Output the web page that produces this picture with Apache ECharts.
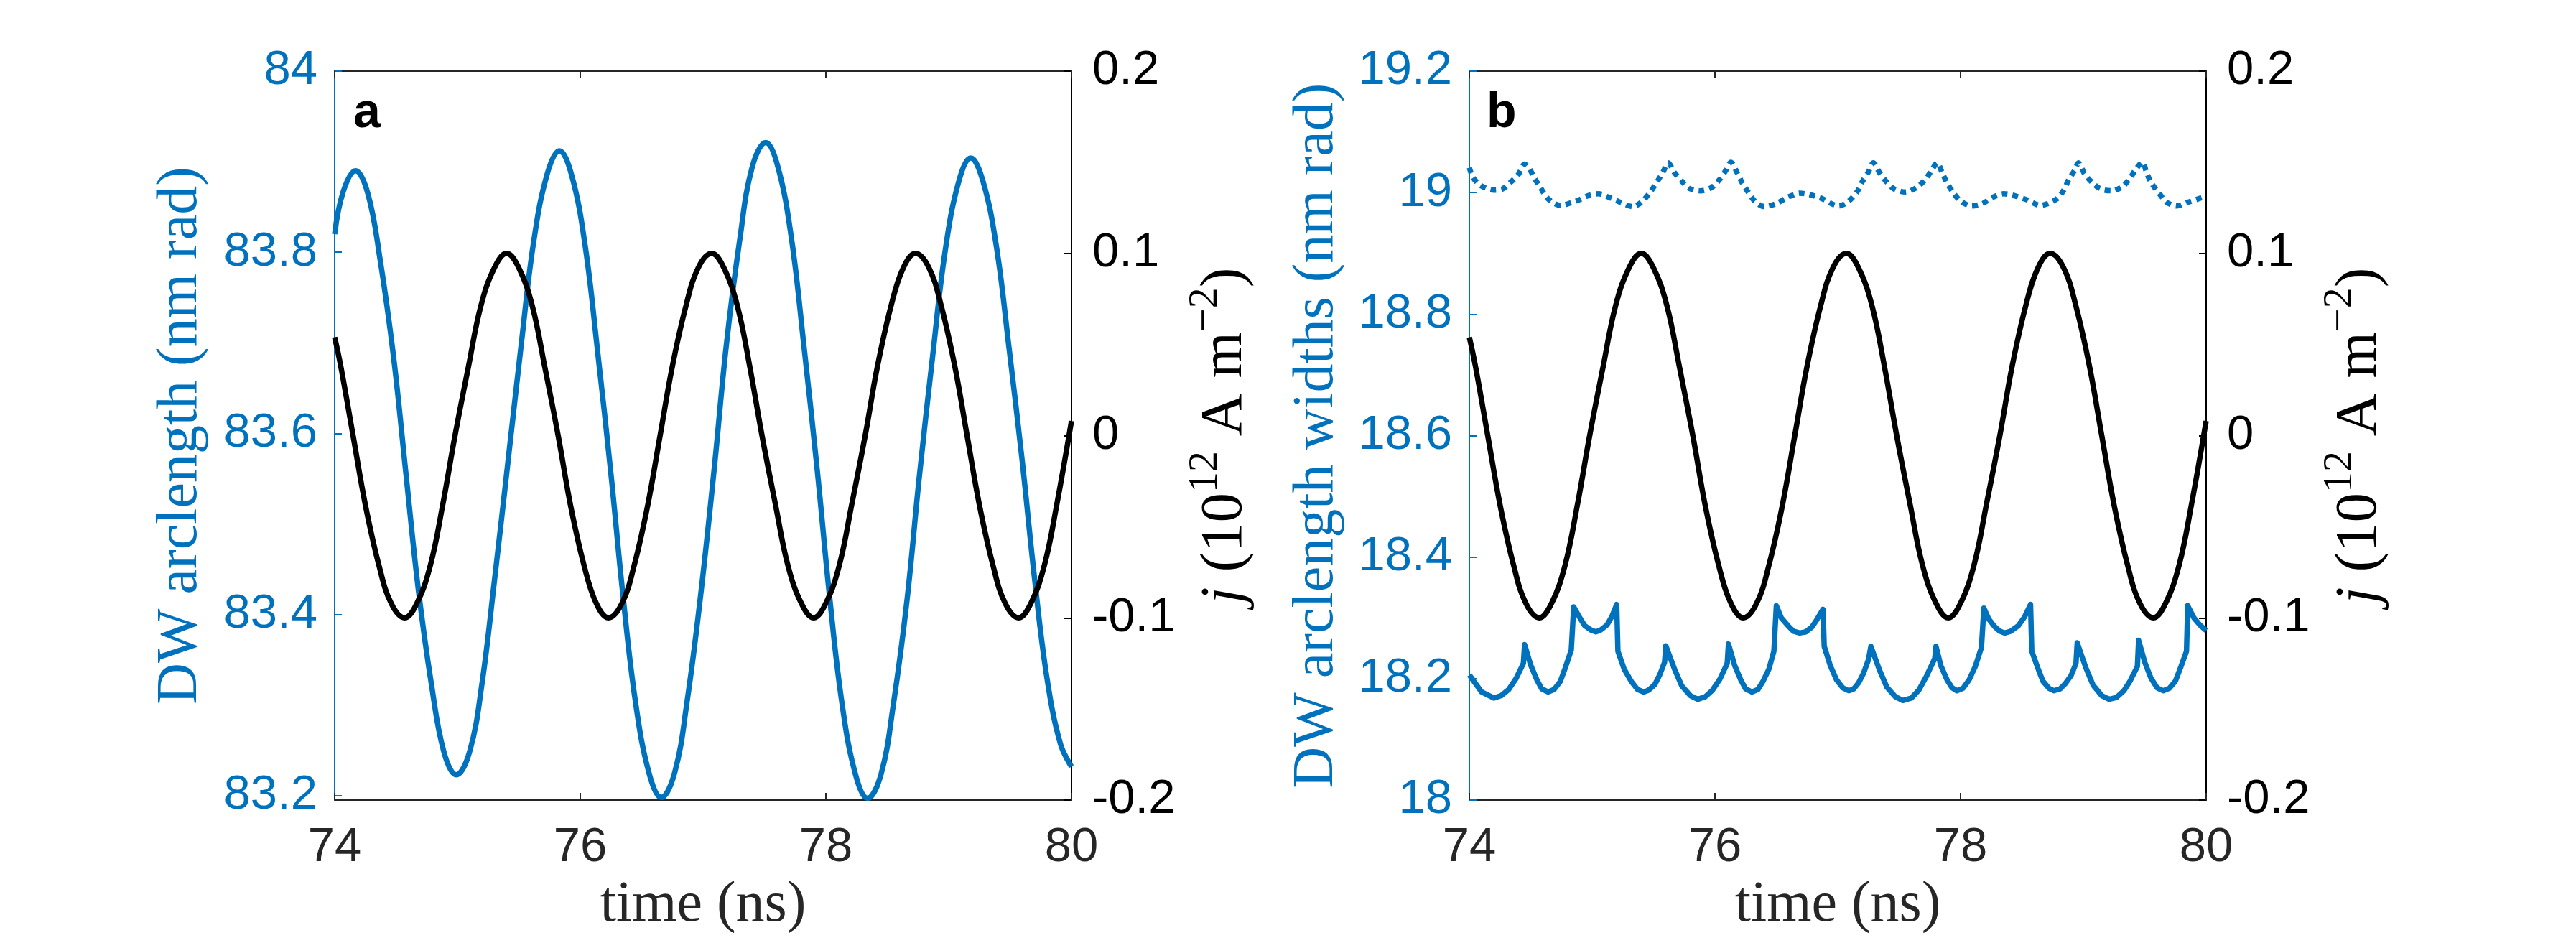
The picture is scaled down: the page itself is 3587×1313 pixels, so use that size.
<!DOCTYPE html>
<html lang="en">
<head>
<meta charset="UTF-8">
<title>DW arclength vs time</title>
<script src="https://cdn.jsdelivr.net/npm/echarts@6.0.0/dist/echarts.min.js"></script>
<style>html,body{margin:0;padding:0;background:#fff;}</style>
</head>
<body>
<div id="main" style="width:3587px;height:1313px;"></div>
<script type="text/javascript">
// current density j (right axes, same drive in both panels)
var jTime = [74.00, 74.05, 74.15, 74.25, 74.36, 74.46, 74.57, 74.67, 74.78, 74.88,
             74.98, 75.09, 75.19, 75.30, 75.40, 75.50, 75.61, 75.71, 75.82, 75.92,
             76.03, 76.13, 76.23, 76.34, 76.44, 76.55, 76.65, 76.75, 76.86, 76.96,
             77.07, 77.17, 77.28, 77.38, 77.48, 77.59, 77.69, 77.80, 77.90, 78.00,
             78.11, 78.21, 78.32, 78.42, 78.53, 78.63, 78.73, 78.84, 78.94, 79.05,
             79.15, 79.25, 79.36, 79.46, 79.57, 79.67, 79.78, 79.88, 80.00];
var jVal  = [0.054, 0.038, 0, -0.038, -0.071, -0.092, -0.1, -0.092, -0.071, -0.038,
             0, 0.038, 0.071, 0.092, 0.1, 0.092, 0.071, 0.038, 0, -0.038,
             -0.071, -0.092, -0.1, -0.092, -0.071, -0.038, 0, 0.038, 0.071, 0.092,
             0.1, 0.092, 0.071, 0.038, 0, -0.038, -0.071, -0.092, -0.1, -0.092,
             -0.071, -0.038, 0, 0.038, 0.071, 0.092, 0.1, 0.092, 0.071, 0.038,
             0, -0.038, -0.071, -0.092, -0.1, -0.092, -0.071, -0.038, 0.008];

// panel a: DW arclength
var arcTime = [74.00, 74.07, 74.17, 74.27, 74.37, 74.48, 74.58, 74.68, 74.79, 74.89,
               74.99, 75.10, 75.20, 75.30, 75.41, 75.52, 75.62, 75.73, 75.83, 75.93,
               76.04, 76.14, 76.25, 76.35, 76.45, 76.56, 76.66, 76.77, 76.87, 76.98,
               77.09, 77.19, 77.30, 77.40, 77.51, 77.61, 77.72, 77.82, 77.93, 78.03,
               78.13, 78.24, 78.34, 78.45, 78.55, 78.66, 78.76, 78.87, 78.97, 79.08,
               79.18, 79.28, 79.39, 79.49, 79.60, 79.70, 79.80, 79.91, 80.00];
var arcVal  = [83.820, 83.867, 83.890, 83.865, 83.792, 83.684, 83.556, 83.429, 83.321, 83.248,
               83.223, 83.249, 83.324, 83.436, 83.567, 83.699, 83.811, 83.886, 83.912, 83.885,
               83.807, 83.692, 83.555, 83.418, 83.303, 83.225, 83.198, 83.226, 83.304, 83.421,
               83.560, 83.698, 83.815, 83.894, 83.921, 83.894, 83.815, 83.698, 83.559, 83.420,
               83.303, 83.224, 83.197, 83.224, 83.301, 83.415, 83.551, 83.686, 83.800, 83.877,
               83.904, 83.878, 83.805, 83.696, 83.568, 83.439, 83.330, 83.257, 83.232];

// panel b: DW arclength widths, lower (solid) curve
var wLoTime = [74.00, 74.10, 74.20, 74.26, 74.32, 74.38, 74.44, 74.45, 74.50, 74.55,
               74.59, 74.64, 74.69, 74.74, 74.78, 74.83, 74.85, 74.90, 74.94, 74.99,
               75.03, 75.07, 75.12, 75.16, 75.20, 75.21, 75.26, 75.32, 75.37, 75.42,
               75.46, 75.51, 75.55, 75.59, 75.60, 75.67, 75.73, 75.80, 75.86, 75.92,
               75.98, 76.04, 76.10, 76.11, 76.16, 76.21, 76.25, 76.30, 76.35, 76.39,
               76.44, 76.48, 76.50, 76.54, 76.60, 76.64, 76.69, 76.74, 76.79, 76.83,
               76.88, 76.89, 76.94, 76.99, 77.04, 77.09, 77.13, 77.17, 77.21, 77.25,
               77.27, 77.34, 77.40, 77.47, 77.53, 77.60, 77.66, 77.72, 77.79, 77.80,
               77.84, 77.89, 77.93, 77.97, 78.02, 78.07, 78.12, 78.17, 78.19, 78.23,
               78.28, 78.32, 78.36, 78.41, 78.47, 78.52, 78.57, 78.58, 78.63, 78.67,
               78.72, 78.76, 78.81, 78.85, 78.90, 78.94, 78.95, 79.02, 79.08, 79.15,
               79.21, 79.27, 79.33, 79.38, 79.44, 79.45, 79.50, 79.55, 79.60, 79.65,
               79.70, 79.75, 79.79, 79.84, 79.85, 79.90, 79.95, 80.00];
var wLoVal  = [18.206, 18.178, 18.168, 18.172, 18.182, 18.200, 18.225, 18.256, 18.222, 18.198,
               18.183, 18.178, 18.182, 18.195, 18.217, 18.247, 18.318, 18.300, 18.287, 18.280,
               18.277, 18.280, 18.288, 18.302, 18.322, 18.245, 18.216, 18.195, 18.182, 18.178,
               18.181, 18.190, 18.206, 18.227, 18.254, 18.216, 18.188, 18.172, 18.166, 18.170,
               18.181, 18.199, 18.225, 18.257, 18.222, 18.198, 18.183, 18.178, 18.182, 18.195,
               18.216, 18.245, 18.320, 18.300, 18.286, 18.278, 18.275, 18.277, 18.285, 18.297,
               18.314, 18.253, 18.221, 18.198, 18.185, 18.180, 18.183, 18.193, 18.209, 18.231,
               18.253, 18.214, 18.186, 18.170, 18.164, 18.168, 18.181, 18.203, 18.233, 18.253,
               18.221, 18.198, 18.185, 18.180, 18.184, 18.198, 18.220, 18.251, 18.316, 18.298,
               18.285, 18.278, 18.275, 18.278, 18.287, 18.301, 18.322, 18.245, 18.217, 18.196,
               18.184, 18.180, 18.183, 18.191, 18.205, 18.225, 18.259, 18.218, 18.189, 18.172,
               18.166, 18.169, 18.180, 18.196, 18.220, 18.263, 18.227, 18.201, 18.185, 18.180,
               18.184, 18.196, 18.217, 18.245, 18.320, 18.300, 18.288, 18.279];

// panel b: upper (dotted) curve
var wHiTime = [74.00, 74.03, 74.09, 74.20, 74.27, 74.33, 74.40, 74.45, 74.49, 74.53,
               74.58, 74.64, 74.74, 74.88, 74.97, 75.05, 75.14, 75.23, 75.33, 75.40,
               75.47, 75.53, 75.58, 75.62, 75.67, 75.73, 75.79, 75.88, 75.97, 76.04,
               76.09, 76.13, 76.18, 76.22, 76.27, 76.32, 76.40, 76.50, 76.59, 76.69,
               76.85, 77.01, 77.09, 77.16, 77.20, 77.25, 77.29, 77.34, 77.40, 77.46,
               77.55, 77.64, 77.71, 77.76, 77.81, 77.85, 77.89, 77.94, 78.00, 78.09,
               78.18, 78.26, 78.35, 78.53, 78.65, 78.78, 78.84, 78.88, 78.93, 78.96,
               79.01, 79.07, 79.14, 79.23, 79.32, 79.38, 79.43, 79.48, 79.52, 79.56,
               79.62, 79.68, 79.76, 79.85, 80.00];
var wHiVal  = [19.041, 19.025, 19.012, 19.004, 19.006, 19.016, 19.030, 19.047, 19.039, 19.024,
               19.008, 18.990, 18.979, 18.987, 18.995, 18.998, 18.992, 18.984, 18.977, 18.984,
               19.000, 19.018, 19.035, 19.049, 19.033, 19.019, 19.007, 19.003, 19.008, 19.022,
               19.037, 19.050, 19.033, 19.017, 19.001, 18.987, 18.977, 18.982, 18.992, 18.999,
               18.992, 18.978, 18.986, 19.002, 19.018, 19.034, 19.049, 19.033, 19.017, 19.006,
               19.001, 19.008, 19.021, 19.035, 19.049, 19.033, 19.016, 19.000, 18.986, 18.978,
               18.982, 18.992, 18.998, 18.989, 18.979, 18.989, 19.004, 19.021, 19.037, 19.049,
               19.031, 19.017, 19.006, 19.003, 19.010, 19.024, 19.039, 19.050, 19.030, 19.014,
               18.998, 18.984, 18.978, 18.984, 18.994];

var arcTicks = [83.2, 83.4, 83.6, 83.8, 84];

var BLUE = '#0072BD';
var GREY = '#262626';
var SANS = 'Liberation Sans';
var SERIF = 'Liberation Serif';
var TICK_FS = 67;

function pairs(xs, ys) {
    return xs.map(function (x, i) { return [x, ys[i]]; });
}

function timeAxis(grid, pos) {
    var top = pos === 'top';
    return {
        type: 'value', gridIndex: grid, position: pos,
        min: 74, max: 80, interval: 2,
        axisLine: {show: true, onZero: false, lineStyle: {color: GREY, width: 2}},
        axisTick: {show: true, inside: true, length: 10, lineStyle: {color: GREY, width: 2}},
        axisLabel: {show: !top, color: GREY, fontFamily: SANS, fontSize: TICK_FS, margin: 33},
        splitLine: {show: false},
        name: top ? '' : 'time (ns)',
        nameLocation: 'middle', nameGap: 107,
        nameTextStyle: {color: GREY, fontFamily: SERIF, fontSize: 80}
    };
}

function jAxis(grid) {
    return {
        type: 'value', gridIndex: grid, position: 'right',
        min: -0.2, max: 0.2, interval: 0.1,
        axisLine: {show: true, onZero: false, lineStyle: {color: '#000', width: 2}},
        axisTick: {show: true, inside: true, length: 10, lineStyle: {color: '#000', width: 2}},
        axisLabel: {color: '#000', fontFamily: SANS, fontSize: TICK_FS, margin: 29},
        splitLine: {show: false},
        name: '{it|j} (10{sup|12} A m{sup|\u22122})',
        nameLocation: 'middle', nameGap: 158,
        nameTextStyle: {
            color: '#000', fontFamily: SERIF, fontSize: 83, lineHeight: 112,
            rich: {
                it: {fontStyle: 'italic', fontFamily: SERIF, fontSize: 83, lineHeight: 112, color: '#000'},
                sup: {fontFamily: SERIF, fontSize: 58, lineHeight: 58, verticalAlign: 'top', color: '#000'}
            }
        }
    };
}

var myChart = echarts.init(document.getElementById('main'));
myChart.setOption({
    animation: false,
    backgroundColor: '#fff',
    grid: [
        {left: 466, top: 99, width: 1026, height: 1015},
        {left: 2046, top: 99, width: 1026, height: 1015}
    ],
    xAxis: [timeAxis(0, 'bottom'), timeAxis(0, 'top'), timeAxis(1, 'bottom'), timeAxis(1, 'top')],
    yAxis: [
        {
            type: 'value', gridIndex: 0, position: 'left',
            min: 83.195, max: 84,
            axisLine: {show: true, onZero: false, lineStyle: {color: BLUE, width: 2}},
            axisTick: {show: true, inside: true, length: 10, customValues: arcTicks, lineStyle: {color: BLUE, width: 2}},
            axisLabel: {color: BLUE, fontFamily: SANS, fontSize: TICK_FS, margin: 24, customValues: arcTicks},
            splitLine: {show: false},
            name: 'DW arclength (nm rad)',
            nameLocation: 'middle', nameGap: 174,
            nameTextStyle: {color: BLUE, fontFamily: SERIF, fontSize: 80}
        },
        jAxis(0),
        {
            type: 'value', gridIndex: 1, position: 'left',
            min: 18, max: 19.2, interval: 0.2,
            axisLine: {show: true, onZero: false, lineStyle: {color: BLUE, width: 2}},
            axisTick: {show: true, inside: true, length: 10, lineStyle: {color: BLUE, width: 2}},
            axisLabel: {color: BLUE, fontFamily: SANS, fontSize: TICK_FS, margin: 24},
            splitLine: {show: false},
            name: 'DW arclength widths (nm rad)',
            nameLocation: 'middle', nameGap: 172,
            nameTextStyle: {color: BLUE, fontFamily: SERIF, fontSize: 80}
        },
        jAxis(1)
    ],
    graphic: [
        {type: 'text', left: 492, top: 124, style: {text: 'a', font: 'bold 68px "Liberation Sans"', fill: '#000'}},
        {type: 'text', left: 2070, top: 124, style: {text: 'b', font: 'bold 68px "Liberation Sans"', fill: '#000'}}
    ],
    series: [
        {
            name: 'arclength', type: 'line', xAxisIndex: 0, yAxisIndex: 0,
            data: pairs(arcTime, arcVal), smooth: 0.4, showSymbol: false,
            lineStyle: {color: BLUE, width: 7.5}, itemStyle: {color: BLUE}
        },
        {
            name: 'j a', type: 'line', xAxisIndex: 0, yAxisIndex: 1,
            data: pairs(jTime, jVal), smooth: 0.4, showSymbol: false,
            lineStyle: {color: '#000', width: 7.5}, itemStyle: {color: '#000'}
        },
        {
            name: 'width low', type: 'line', xAxisIndex: 2, yAxisIndex: 2,
            data: pairs(wLoTime, wLoVal), showSymbol: false,
            lineStyle: {color: BLUE, width: 7.5, join: 'round'}, itemStyle: {color: BLUE}
        },
        {
            name: 'width high', type: 'line', xAxisIndex: 2, yAxisIndex: 2,
            data: pairs(wHiTime, wHiVal), smooth: 0.3, showSymbol: false,
            lineStyle: {color: BLUE, width: 7.5, type: [8, 7], cap: 'butt'}, itemStyle: {color: BLUE}
        },
        {
            name: 'j b', type: 'line', xAxisIndex: 2, yAxisIndex: 3,
            data: pairs(jTime, jVal), smooth: 0.4, showSymbol: false,
            lineStyle: {color: '#000', width: 7.5}, itemStyle: {color: '#000'}
        }
    ]
});
</script>
</body>
</html>
